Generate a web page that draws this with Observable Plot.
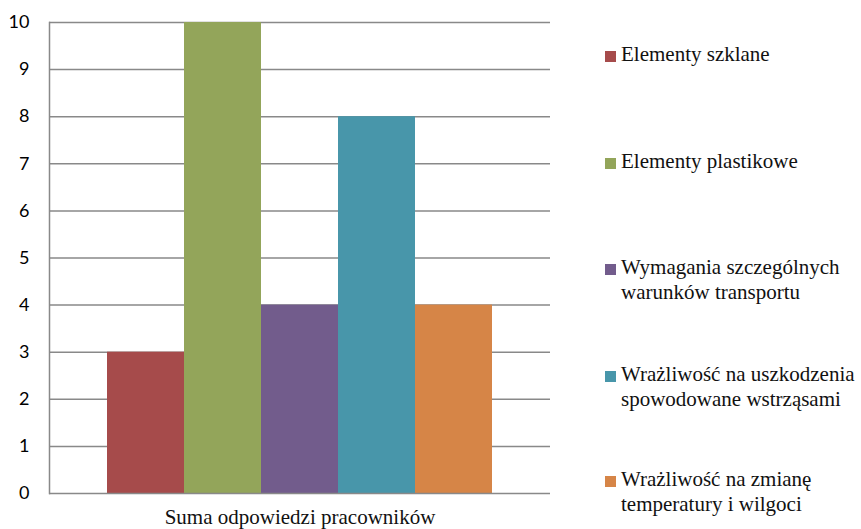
<!DOCTYPE html>
<html lang="pl">
<head>
<meta charset="utf-8">
<script src="https://cdn.jsdelivr.net/npm/d3@7"></script>
<script src="https://cdn.jsdelivr.net/npm/@observablehq/plot@0.6"></script>
<style>
  html, body { margin: 0; padding: 0; background: #fff; }
  #wrap { position: relative; width: 861px; height: 529px; overflow: hidden; }
  #legend { position: absolute; left: 605px; top: 0; }
  .item { position: absolute; left: 0; display: flex; align-items: flex-start; white-space: nowrap; }
  .swatch { width: 11px; height: 11px; margin-top: 9px; margin-right: 5px; flex: none; }
  .label { font-family: "Liberation Serif", serif; font-size: 21px; line-height: 25px; color: #111; }
</style>
</head>
<body>
<div id="wrap"></div>
<script>
// Answers per product property
const categories = [
  "Elementy szklane",
  "Elementy plastikowe",
  "Wymagania szczególnych warunków transportu",
  "Wrażliwość na uszkodzenia spowodowane wstrząsami",
  "Wrażliwość na zmianę temperatury i wilgoci"
];
const values = [3, 10, 4, 8, 4];
const colors = ["#A64B4B", "#93A55A", "#725C8C", "#4896AA", "#D68547"];
const legendLines = [
  ["Elementy szklane"],
  ["Elementy plastikowe"],
  ["Wymagania szczególnych", "warunków transportu"],
  ["Wrażliwość na uszkodzenia", "spowodowane wstrząsami"],
  ["Wrażliwość na zmianę", "temperatury i wilgoci"]
];
const groupLabel = "Suma odpowiedzi pracowników";
const yTicks = [0, 1, 2, 3, 4, 5, 6, 7, 8, 9, 10];

const data = categories.map((c, i) => ({group: groupLabel, category: c, value: values[i]}));

const chart = Plot.plot({
  width: 861,
  height: 529,
  marginLeft: 49,
  marginRight: 311,
  marginTop: 22,
  marginBottom: 36,
  style: {fontFamily: "Lato, sans-serif", background: "#fff", color: "#000"},
  fx: {domain: [groupLabel], padding: 0},
  x: {domain: categories, paddingInner: 0, paddingOuter: 0.745, axis: null},
  y: {domain: [0, 10]},
  color: {domain: categories, range: colors},
  marks: [
    Plot.gridY(yTicks.filter(t => t > 0), {stroke: "#898989", strokeOpacity: 1, strokeWidth: 1.5}),
    Plot.barY(data, {fx: "group", x: "category", y: "value", fill: "category"}),
    Plot.ruleY([0], {stroke: "#898989", strokeWidth: 1.5}),
    Plot.frame({anchor: "left", stroke: "#898989", strokeWidth: 1.5}),
    Plot.axisY(yTicks, {tickSize: 0, tickPadding: 20, fontSize: 18, label: null, fill: "#000"}),
    Plot.axisFx({anchor: "bottom", tickSize: 0, tickPadding: 16, fontSize: 21, label: null, fontFamily: "Liberation Serif, serif", fill: "#111"})
  ]
});

const wrap = document.getElementById("wrap");
wrap.appendChild(chart);

// Legend to the right of the plot
const legend = document.createElement("div");
legend.id = "legend";
const tops = [42, 149, 255, 362, 467];
categories.forEach((c, i) => {
  const item = document.createElement("div");
  item.className = "item";
  item.style.top = tops[i] + "px";
  const sw = document.createElement("span");
  sw.className = "swatch";
  sw.style.background = colors[i];
  const label = document.createElement("div");
  label.className = "label";
  label.innerHTML = legendLines[i].join("<br>");
  item.appendChild(sw);
  item.appendChild(label);
  legend.appendChild(item);
});
wrap.appendChild(legend);
</script>
</body>
</html>
